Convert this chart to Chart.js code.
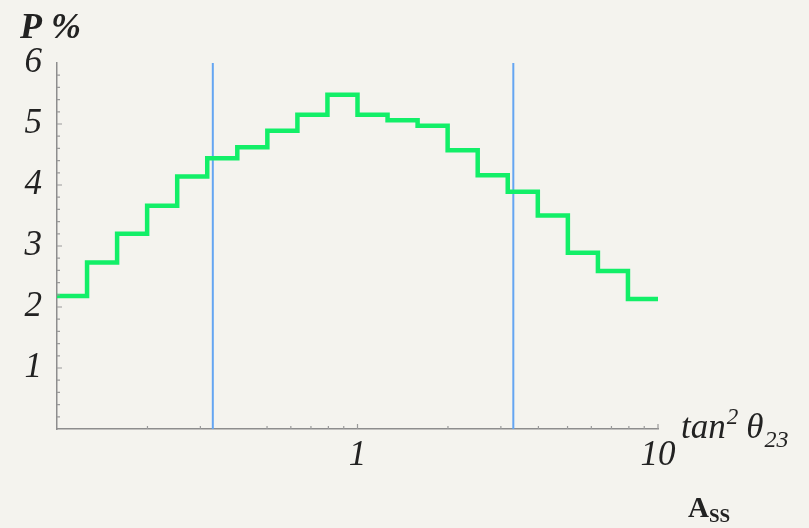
<!DOCTYPE html>
<html>
<head>
<meta charset="utf-8">
<script src="https://cdn.jsdelivr.net/npm/chart.js@4.4.1/dist/chart.umd.min.js"></script>
<style>
  html, body { margin: 0; padding: 0; background: #f4f3ee; }
  #wrap { width: 809px; height: 528px; }
</style>
</head>
<body>
<div id="wrap"><canvas id="chart" width="809" height="528"></canvas></div>
<script>
// histogram bin edges in tan^2(theta23), 10 bins per decade
const binEdges = [0.1, 0.1259, 0.1585, 0.1995, 0.2512, 0.3162, 0.3981, 0.5012, 0.631, 0.7943,
  1, 1.259, 1.585, 1.995, 2.512, 3.162, 3.981, 5.012, 6.31, 7.943, 10];
// probability per bin (%)
const binValues = [2.18, 2.73, 3.2, 3.66, 4.14, 4.44, 4.62, 4.89, 5.15, 5.48,
  5.15, 5.06, 4.97, 4.57, 4.16, 3.89, 3.5, 2.89, 2.59, 2.13];
// vertical cut lines
const cutLines = [0.33, 3.3];
const cutRange = [0, 6];
// tick labels
const xTickValues = [1, 10];
const yTickValues = [1, 2, 3, 4, 5, 6];
const xMinorTicks = [0.2, 0.3, 0.5, 0.6, 0.7, 0.8, 0.9, 2, 3, 4, 5, 6, 7, 8, 9];

const serif = '"Liberation Serif", "Times New Roman", serif';

// stepped line: each edge holds the value of the bin starting there
const stepPoints = binEdges.map((x, i) => ({ x: x, y: binValues[Math.min(i, binValues.length - 1)] }));

const cutDatasets = cutLines.map((x) => ({
  data: cutRange.map((y) => ({ x: x, y: y })),
  borderColor: '#64a5f2',
  borderWidth: 2,
  pointRadius: 0,
  fill: false,
}));

// page background
const bgPlugin = {
  id: 'bg',
  beforeDraw(chart) {
    const ctx = chart.ctx;
    ctx.save();
    ctx.fillStyle = '#f4f3ee';
    ctx.fillRect(0, 0, chart.width, chart.height);
    ctx.restore();
  },
};

// small inward ticks, like the original plot
const innerTicks = {
  id: 'innerTicks',
  afterDraw(chart) {
    const ctx = chart.ctx;
    const x = chart.scales.x;
    const y = chart.scales.y;
    ctx.save();
    ctx.strokeStyle = '#9a9a9a';
    ctx.lineWidth = 1.2;
    ctx.beginPath();
    xMinorTicks.forEach((v) => {
      const px = x.getPixelForValue(v);
      ctx.moveTo(px, y.bottom);
      ctx.lineTo(px, y.bottom - 3);
    });
    xTickValues.forEach((v) => {
      const px = x.getPixelForValue(v);
      ctx.moveTo(px, y.bottom);
      ctx.lineTo(px, y.bottom - 5);
    });
    for (let v = 0.2; v < 6; v += 0.2) {
      const py = y.getPixelForValue(v);
      const major = Math.abs(v - Math.round(v)) < 0.01;
      ctx.moveTo(x.left, py);
      ctx.lineTo(x.left + (major ? 5 : 3), py);
    }
    ctx.stroke();
    ctx.restore();
  },
};

// axis titles drawn as text
const titles = {
  id: 'titles',
  afterDraw(chart) {
    const ctx = chart.ctx;
    ctx.save();
    ctx.fillStyle = '#222';
    ctx.textBaseline = 'alphabetic';

    ctx.font = 'bold italic 36px ' + serif;
    ctx.fillText('P %', 20, 38);

    let cx = 681;
    ctx.font = 'italic 35px ' + serif;
    ctx.fillText('tan', cx, 438);
    cx += ctx.measureText('tan').width + 1;
    ctx.font = 'italic 23px ' + serif;
    ctx.fillText('2', cx, 424);
    cx += ctx.measureText('2').width + 8;
    ctx.font = 'italic 35px ' + serif;
    ctx.fillText('\u03b8', cx, 438);
    cx += ctx.measureText('\u03b8').width + 1;
    ctx.font = 'italic 24px ' + serif;
    ctx.fillText('23', cx, 447);

    ctx.font = 'bold 29px ' + serif;
    ctx.fillText('A', 688, 517);
    ctx.font = 'bold 19px ' + serif;
    ctx.fillText('SS', 709, 522);
    ctx.restore();
  },
};

const config = {
  type: 'line',
  data: {
    datasets: [
      {
        data: stepPoints,
        stepped: 'before',
        borderColor: '#12ef68',
        borderWidth: 4.5,
        borderJoinStyle: 'miter',
        pointRadius: 0,
        fill: false,
      },
      ...cutDatasets,
    ],
  },
  options: {
    responsive: false,
    animation: false,
    layout: {
      padding: { top: 63, right: 151, left: 0, bottom: 0 },
    },
    plugins: {
      legend: { display: false },
      tooltip: { enabled: false },
    },
    scales: {
      x: {
        type: 'logarithmic',
        min: 0.1,
        max: 10,
        grid: { display: false, drawTicks: false },
        border: { color: '#8d8d8d', width: 1.5 },
        afterBuildTicks: (scale) => {
          scale.ticks = xTickValues.map((v) => ({ value: v }));
        },
        afterFit: (scale) => {
          scale.height = 99;
        },
        ticks: {
          autoSkip: false,
          maxRotation: 0,
          padding: 6,
          color: '#222',
          font: { family: serif, size: 35, style: 'italic' },
          callback: (v) => String(v),
        },
      },
      y: {
        min: 0,
        max: 6,
        grid: { display: false, drawTicks: false },
        border: { color: '#8d8d8d', width: 1.5 },
        afterBuildTicks: (scale) => {
          scale.ticks = yTickValues.map((v) => ({ value: v }));
        },
        afterFit: (scale) => {
          scale.width = 57;
        },
        ticks: {
          padding: 15,
          color: '#222',
          font: { family: serif, size: 35, style: 'italic' },
        },
      },
    },
  },
  plugins: [bgPlugin, innerTicks, titles],
};

new Chart(document.getElementById('chart').getContext('2d'), config);
</script>
</body>
</html>
